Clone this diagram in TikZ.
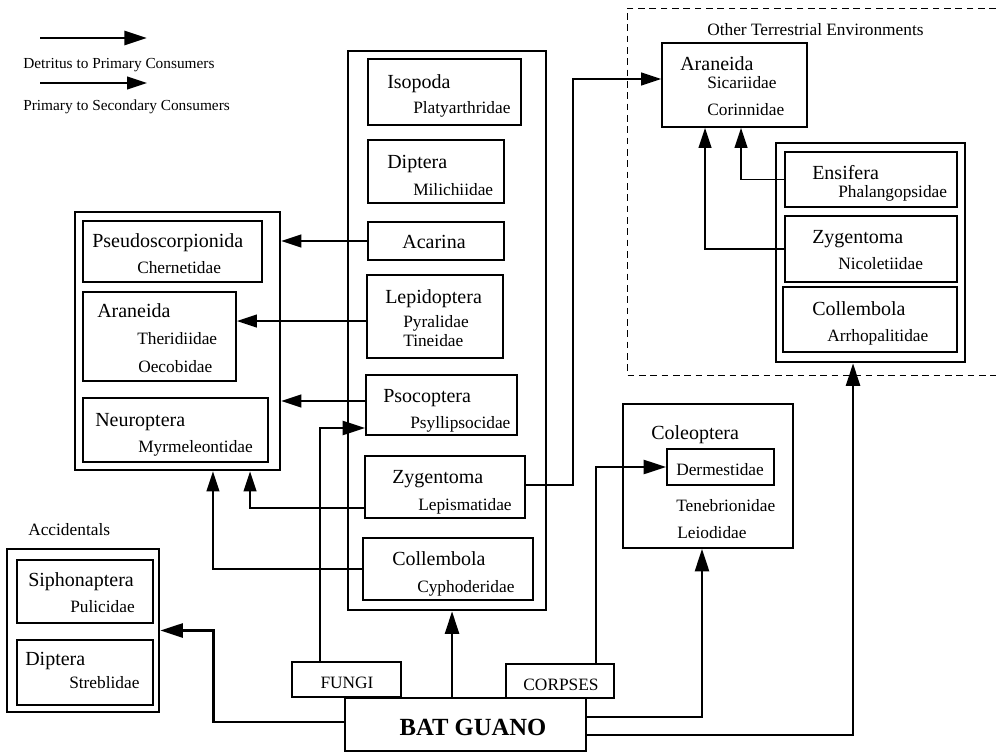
\documentclass[tikz,border=0pt]{standalone}
\usepackage{fontspec}
\setmainfont{Liberation Serif}
\usetikzlibrary{arrows.meta,fit,calc}
\begin{document}
\begin{tikzpicture}[x=0.75pt,y=-0.75pt,
  ibox/.style={draw, line width=1.2pt, inner sep=0pt},
  obox/.style={draw, line width=1.9pt, inner sep=0pt},
  det/.style={line width=2pt, -{Triangle[length=17pt,width=10.5pt]}},
  sec/.style={line width=1.4pt, -{Triangle[length=15pt,width=9.5pt]}},
  ord/.style={font=\fontsize{15}{15}\selectfont, anchor=base west, inner sep=0pt},
  fam/.style={font=\fontsize{13}{13}\selectfont, anchor=base west, inner sep=0pt},
  lbl/.style={font=\fontsize{13}{13}\selectfont, anchor=base west, inner sep=0pt},
  leg/.style={font=\fontsize{11.5}{11.5}\selectfont, anchor=base west, inner sep=0pt},
  envline/.style={line width=0.6pt, dash pattern=on 5pt off 3.5pt}]
\useasboundingbox (0,0) rectangle (996,753);

% legend
\coordinate (L1a) at (40,38); \coordinate (L1b) at (147,38);
\coordinate (L2a) at (40,83); \coordinate (L2b) at (147,83);
\draw[det] (L1a) -- (L1b);
\draw[sec] (L2a) -- (L2b);
\node[leg] (leg1) at (23,68) {Detritus to Primary Consumers};
\node[leg] (leg2) at (23,110) {Primary to Secondary Consumers};

% outer group boxes
\node[obox, fit={(348,51) (546,610)}] (cout) {};
\node[obox, fit={(75,212) (280,470)}] (lout) {};
\node[obox, fit={(7,549) (159,712)}] (acc) {};
\node[obox, fit={(776,143) (965,362)}] (rout) {};

% other terrestrial environments (dashed frame)
\draw[envline] (996,8) -- (627,8) -- (627,375) -- (996,375);
\node[lbl] (envt) at (707,35) {Other Terrestrial Environments};

% centre column
\node[ibox, fit={(368,59) (521,125)}] (iso) {};
\node[ord] (isoA) at (387,88) {Isopoda};
\node[fam] (isoB) at (413,113) {Platyarthridae};
\node[ibox, fit={(368,140) (504,203)}] (dip) {};
\node[ord] (dipA) at (387,168) {Diptera};
\node[fam] (dipB) at (413,195) {Milichiidae};
\node[ibox, fit={(368,222) (504,260)}] (aca) {};
\node[ord, anchor=base] (acaA) at (434,248) {Acarina};
\node[ibox, fit={(367,275) (503,358)}] (lep) {};
\node[ord] (lepA) at (385,303) {Lepidoptera};
\node[fam] (lepB) at (403,327) {Pyralidae};
\node[fam] (lepC) at (403,346) {Tineidae};
\node[ibox, fit={(366,375) (517,435)}] (pso) {};
\node[ord] (psoA) at (383,402) {Psocoptera};
\node[fam] (psoB) at (410,428) {Psyllipsocidae};
\node[ibox, fit={(365,456) (525,518)}] (zyg) {};
\node[ord] (zygA) at (392,483) {Zygentoma};
\node[fam] (zygB) at (418,510) {Lepismatidae};
\node[ibox, fit={(363,538) (533,600)}] (col) {};
\node[ord] (colA) at (392,565) {Collembola};
\node[fam] (colB) at (417,592) {Cyphoderidae};

% left (secondary consumers)
\node[ibox, fit={(83,221) (262,282)}] (pse) {};
\node[ord] (pseA) at (92,247) {Pseudoscorpionida};
\node[fam] (pseB) at (137,273) {Chernetidae};
\node[ibox, fit={(83,292) (236,381)}] (ara) {};
\node[ord] (araA) at (97,317) {Araneida};
\node[fam] (araB) at (137,344) {Theridiidae};
\node[fam] (araC) at (138,372) {Oecobidae};
\node[ibox, fit={(83,398) (268,462)}] (neu) {};
\node[ord] (neuA) at (95,426) {Neuroptera};
\node[fam] (neuB) at (138,452) {Myrmeleontidae};

% accidentals
\node[lbl] (accT) at (28,535) {Accidentals};
\node[ibox, fit={(17,560) (153,623)}] (sip) {};
\node[ord] (sipA) at (28,586) {Siphonaptera};
\node[fam] (sipB) at (70,612) {Pulicidae};
\node[ibox, fit={(17,640) (153,705)}] (dpt) {};
\node[ord] (dptA) at (25,665) {Diptera};
\node[fam] (dptB) at (69,688) {Streblidae};

% other terrestrial environments
\node[ibox, fit={(662,43) (807,127)}] (arO) {};
\node[ord] (arOA) at (680,70) {Araneida};
\node[fam] (arOB) at (707,88) {Sicariidae};
\node[fam] (arOC) at (707,115) {Corinnidae};
\node[ibox, fit={(785,152) (957,207)}] (ens) {};
\node[ord] (ensA) at (812,179) {Ensifera};
\node[fam] (ensB) at (838,197) {Phalangopsidae};
\node[ibox, fit={(785,216) (957,282)}] (rzy) {};
\node[ord] (rzyA) at (812,243) {Zygentoma};
\node[fam] (rzyB) at (838,269) {Nicoletiidae};
\node[ibox, fit={(783,287) (957,352)}] (rco) {};
\node[ord] (rcoA) at (812,315) {Collembola};
\node[fam] (rcoB) at (827,341) {Arrhopalitidae};

% coleoptera
\node[ibox, fit={(623,404) (793,548)}] (cole) {};
\node[ord] (coleA) at (651,439) {Coleoptera};
\node[ibox, fit={(667,449) (774,485)}] (derm) {};
\node[fam] (dermA) at (676,475) {Dermestidae};
\node[fam] (coleB) at (676,511) {Tenebrionidae};
\node[fam] (coleC) at (677,538) {Leiodidae};

% sources
\node[ibox, fit={(292,662) (401,697)}] (fungi) {};
\node[lbl, anchor=base] (fungiT) at (347,688) {FUNGI};
\node[ibox, fit={(506,664) (614,698)}] (corp) {};
\node[lbl, anchor=base] (corpT) at (561,690) {CORPSES};
\node[ibox, fit={(345,698) (586,751)}] (bat) {};
\node[font=\fontsize{18.5}{18.5}\selectfont\bfseries, anchor=base, inner sep=0pt] (batT) at (473,735) {BAT GUANO};

% primary -> secondary
\draw[sec] (aca.west) -- (aca.west -| lout.east);
\draw[sec] ([yshift=-3.4pt]lep.west) -- ([yshift=-3.4pt]lep.west -| ara.east);
\draw[sec] ([yshift=3pt]pso.west) -- ([yshift=3pt]pso.west -| lout.east);
\draw[sec] ([yshift=-15.75pt]zyg.west) -| ([xshift=54.4pt]lout.south);
\draw[sec] (col.west) -| ([xshift=26.6pt]lout.south);
\draw[sec] ([yshift=1.5pt]zyg.east) -- ++(47,0) |- ([yshift=4.5pt]arO.west);
\draw[sec] (ens.west) -| ([xshift=4.9pt]arO.south);
\draw[sec] (rzy.west) -| ([xshift=-22.1pt]arO.south);

% detritus -> primary
\draw[det] ([xshift=-19.9pt]fungi.north) |- ([yshift=-17.25pt]pso.west);
\coordinate (b1) at ([xshift=-10.1pt]bat.north);
\draw[det] (b1) -- (b1 |- cout.south);
\draw[det] ([yshift=5.6pt]bat.east) -| ([xshift=-4.5pt]cole.south);
\draw[det] ([yshift=-7.9pt]bat.east) -| ([xshift=-13.1pt]rout.south);
\draw[det] ([yshift=1.9pt]bat.west) -| ([xshift=39.75pt]acc.east) -- (acc.east);
\draw[det] ([xshift=27pt]corp.north) |- (derm.west);
\end{tikzpicture}
\end{document}
